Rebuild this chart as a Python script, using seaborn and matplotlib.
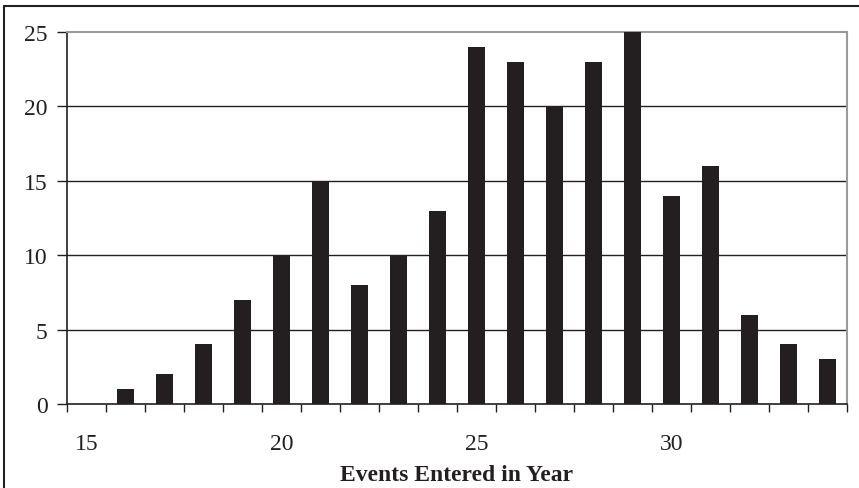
import matplotlib.pyplot as plt
import matplotlib.lines as mlines
import seaborn as sns
import pandas as pd

sns.set_theme(style="white")
plt.rcParams["font.family"] = ["Liberation Serif", "DejaVu Serif"]

events = list(range(15, 35))
counts = [0, 1, 2, 4, 7, 10, 15, 8, 10, 13, 24, 23, 20, 23, 25, 14, 16, 6, 4, 3]
yticks = [0, 5, 10, 15, 20, 25]

df = pd.DataFrame({"events": [str(e) for e in events], "count": counts})
ink = "#231f20"

fig = plt.figure(figsize=(8.59, 4.89), dpi=100)
ax = fig.add_axes([67 / 859, 1 - 405 / 489, 780 / 859, 372 / 489])

sns.barplot(data=df, x="events", y="count", color=ink, width=0.46,
            saturation=1, linewidth=0, edgecolor="none", ax=ax, zorder=3)

ax.set_xlim(-0.5, len(events) - 0.5)
ax.set_ylim(0, 25)
ax.set_yticks(yticks)
ax.set_yticklabels([str(t) for t in yticks], fontsize=17, color=ink)
for t in yticks[1:-1]:
    ax.axhline(t, color=ink, lw=1, zorder=1)

# category labels every 5, ticks on category boundaries
major = [i for i, e in enumerate(events) if e % 5 == 0]
ax.set_xticks(major)
ax.set_xticklabels([str(events[i]) for i in major], fontsize=17, color=ink)
ax.tick_params(axis="x", which="major", length=0, pad=21)
ax.set_xticks([i - 0.5 for i in range(len(events) + 1)], minor=True)
ax.tick_params(axis="x", which="minor", direction="out", length=6, width=1,
               color=ink, bottom=True)
ax.tick_params(axis="y", direction="out", length=7, width=1, color=ink,
               left=True, pad=7)

ax.set_xlabel("Events Entered in Year", fontsize=17, fontweight="bold",
              color=ink, labelpad=7)
ax.set_ylabel("")

for s in ["left", "bottom"]:
    ax.spines[s].set_color(ink)
    ax.spines[s].set_linewidth(1.2)
for s in ["top", "right"]:
    ax.spines[s].set_color("#9a9a9a")
    ax.spines[s].set_linewidth(1.5)

# outer frame
fig.add_artist(mlines.Line2D([4 / 859, 4 / 859], [0, 1 - 7 / 489],
                             transform=fig.transFigure, color=ink, lw=1.5))
fig.add_artist(mlines.Line2D([4 / 859, 1], [1 - 7 / 489, 1 - 7 / 489],
                             transform=fig.transFigure, color=ink, lw=1.5))

fig.savefig("out.png", dpi=100)
